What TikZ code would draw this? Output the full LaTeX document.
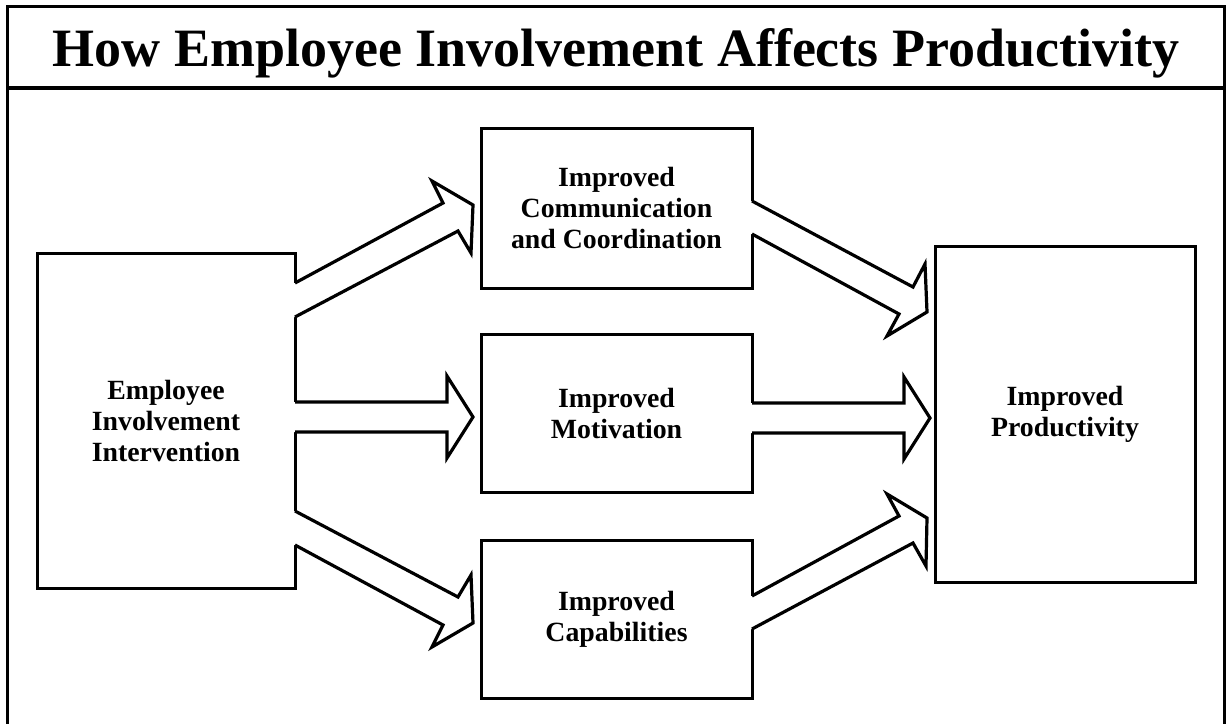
\documentclass[tikz,border=0pt]{standalone}
\usepackage{fontspec}
\setmainfont{Liberation Serif}
\usetikzlibrary{calc}
\begin{document}
\begin{tikzpicture}[x=1pt,y=-1pt,
  box/.style={draw, line width=3pt, fill=white, outer sep=0pt, inner sep=0pt,
    align=center, font=\fontsize{27.8}{31}\selectfont\bfseries},
  arrline/.style={line width=3.2pt, line join=miter},
  arrfill/.style={fill=white}]
\useasboundingbox (0,0) rectangle (1228,723);
% frame
\draw[line width=3pt] (7,740) -- (7,6) -- (1224,6) -- (1224,740);
\draw[line width=3.5pt] (7,88) -- (1224,88);
\node[anchor=base, inner sep=0pt, font=\fontsize{54}{60}\selectfont\bfseries] (title) at (616,66)
  {How Employee Involvement Affects Productivity};
% boxes
\node[box, minimum width=258pt, minimum height=335pt] (L) at (166,420.5)
  {Employee\\Involvement\\Intervention};
\node[box, minimum width=271pt, minimum height=160pt] (T) at (616.5,208)
  {Improved\\Communication\\and Coordination};
\node[box, minimum width=271pt, minimum height=158pt] (M) at (616.5,413)
  {Improved\\Motivation};
\node[box, minimum width=271pt, minimum height=158pt] (B) at (616.5,619)
  {Improved\\Capabilities};
\node[box, minimum width=260pt, minimum height=336pt] (R) at (1065,414)
  {Improved\\Productivity};
% L -> T
\fill[arrfill] ($(L.north east)+(-3,30)$) -- ($(L.north east)+(0,30)$) -- (443,203) -- (432,181)
  -- ($(T.west)+(-8,-3)$) -- (471,253) -- (458,231) -- ($(L.north east)+(0,64)$) -- ($(L.north east)+(-3,64)$) -- cycle;
\draw[arrline] ($(L.north east)+(0,30)$) -- (443,203) -- (432,181)
  -- ($(T.west)+(-8,-3)$) -- (471,253) -- (458,231) -- ($(L.north east)+(0,64)$);
% L -> M
\fill[arrfill] ($(L.east)+(-3,-18.5)$) -- ($(L.east)+(0,-18.5)$) -- (447,402) -- (447,376)
  -- ($(M.west)+(-8,4)$) -- (447,458) -- (447,432) -- ($(L.east)+(0,11.5)$) -- ($(L.east)+(-3,11.5)$) -- cycle;
\draw[arrline] ($(L.east)+(0,-18.5)$) -- (447,402) -- (447,376)
  -- ($(M.west)+(-8,4)$) -- (447,458) -- (447,432) -- ($(L.east)+(0,11.5)$);
% L -> B
\fill[arrfill] ($(L.north east)+(-3,258)$) -- ($(L.north east)+(0,258)$) -- (458,597) -- (471,575)
  -- ($(B.west)+(-8,4)$) -- (432,647) -- (443,625) -- ($(L.north east)+(0,292)$) -- ($(L.north east)+(-3,292)$) -- cycle;
\draw[arrline] ($(L.north east)+(0,258)$) -- (458,597) -- (471,575)
  -- ($(B.west)+(-8,4)$) -- (432,647) -- (443,625) -- ($(L.north east)+(0,292)$);
% T -> R
\fill[arrfill] ($(T.east)+(-3,-7)$) -- ($(T.east)+(0,-7)$) -- (913,287) -- (925,264)
  -- ($(R.west)+(-8,-102)$) -- (887,336) -- (899,314) -- ($(T.east)+(0,26)$) -- ($(T.east)+(-3,26)$) -- cycle;
\draw[arrline] ($(T.east)+(0,-7)$) -- (913,287) -- (925,264)
  -- ($(R.west)+(-8,-102)$) -- (887,336) -- (899,314) -- ($(T.east)+(0,26)$);
% M -> R
\fill[arrfill] ($(M.east)+(-3,-10)$) -- ($(M.east)+(0,-10)$) -- (904,403) -- (904,377)
  -- ($(R.west)+(-5,4)$) -- (904,459) -- (904,433) -- ($(M.east)+(0,20)$) -- ($(M.east)+(-3,20)$) -- cycle;
\draw[arrline] ($(M.east)+(0,-10)$) -- (904,403) -- (904,377)
  -- ($(R.west)+(-5,4)$) -- (904,459) -- (904,433) -- ($(M.east)+(0,20)$);
% B -> R
\fill[arrfill] ($(B.east)+(-3,-23)$) -- ($(B.east)+(0,-23)$) -- (899,516) -- (887,494)
  -- ($(R.west)+(-8,104)$) -- (926,566) -- (913,543) -- ($(B.east)+(0,10)$) -- ($(B.east)+(-3,10)$) -- cycle;
\draw[arrline] ($(B.east)+(0,-23)$) -- (899,516) -- (887,494)
  -- ($(R.west)+(-8,104)$) -- (926,566) -- (913,543) -- ($(B.east)+(0,10)$);
\end{tikzpicture}
\end{document}
